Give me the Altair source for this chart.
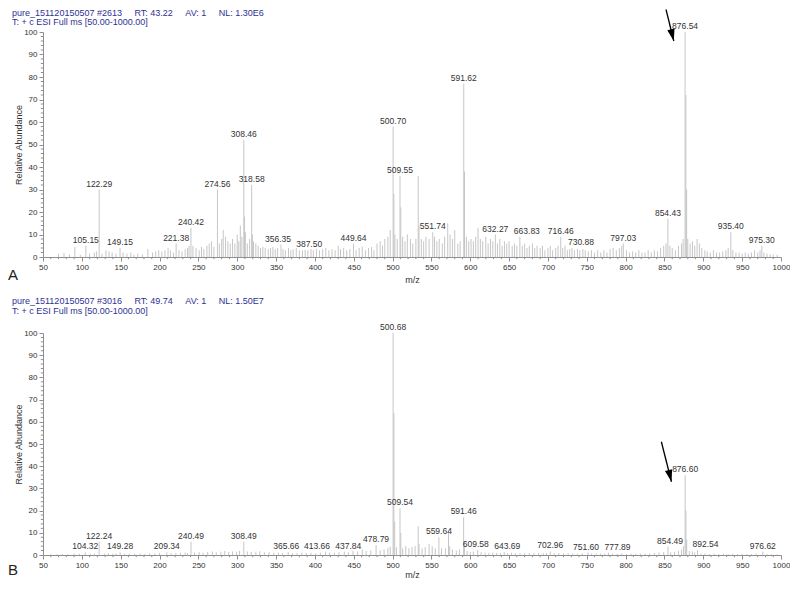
import altair as alt
import pandas as pd

FONT = "Liberation Sans"
NB = "\u00a0" * 5

# ---------------- data: panel A (m/z, relative abundance) ----------------
A_PEAKS = [
    (70, 1.5), (77, 1.8), (84, 1.2), (91, 4.5), (98, 1.0), (105.15, 5), (110, 1.5), (116, 2), (119, 2.5),
    (122.29, 30), (126, 1.5), (131, 3), (135, 2.5), (139, 2), (144, 1.5), (149.15, 4), (153, 2), (158, 1.5),
    (163, 2), (167, 1), (172, 1.5), (178, 1.2), (185, 3.5), (191, 2), (195, 2.5), (199, 3),
    (203, 2.5), (207, 3), (211, 4), (214, 3), (218, 2), (221.38, 6), (225, 3), (229, 2.5), (233, 3.5),
    (236, 4), (238, 5), (240.42, 13), (243, 5), (247, 4), (251, 3), (254, 4.5), (257, 3.5), (261, 5),
    (264, 6), (267, 7), (270, 4.5), (274.56, 30), (277, 6), (280, 8), (282, 12), (285, 9), (288, 7),
    (291, 6), (294, 8), (297, 6), (300, 10), (302, 7), (304, 14), (306, 9), (308.46, 52), (309.46, 18),
    (310.5, 11), (313, 6), (316, 8), (318.58, 32), (319.58, 10), (321, 7), (324, 6), (327, 5), (330, 4),
    (333, 4.5), (336, 4), (340, 3.5), (343, 4), (346, 4.5), (349, 3.5), (352, 4), (356.35, 5.5), (359, 3.5),
    (362, 3), (366, 4), (369, 3), (372, 3.5), (376, 4), (380, 3), (384, 3), (387.50, 3.2), (391, 3),
    (395, 3.5), (398, 3), (402, 3.5), (406, 3), (410, 3.5), (414, 4), (418, 3), (422, 3.5), (426, 3),
    (430, 5), (433, 3.5), (437, 4), (441, 3), (445, 3.5), (449.64, 6), (453, 3), (457, 4), (461, 4.5),
    (465, 3), (469, 4), (473, 4.5), (476, 3), (480, 6), (484, 7), (487, 5), (490, 8), (494, 9), (497, 12),
    (500.70, 58), (501.70, 28), (503, 10), (506, 8), (509.55, 36), (510.55, 22), (513, 9), (516, 7),
    (519, 10), (523, 8), (526, 6), (530, 8), (533, 36), (534, 14), (537, 8), (540, 7), (543, 9), (547, 8),
    (551.74, 11), (554, 9), (557, 7), (560, 8), (564, 6), (567, 9), (571, 15), (574, 10), (577, 8),
    (580, 12), (584, 6), (587, 7), (591.62, 77), (592.62, 38), (595, 9), (598, 7),
    (601, 8), (604, 7), (607, 9), (610, 13), (613, 8), (616, 7), (620, 9), (623, 6), (626, 8), (629, 7),
    (632.27, 10), (635, 6), (638, 8), (641, 5), (644, 7), (647, 6), (650, 7), (654, 5), (657, 6), (660, 5),
    (663.83, 9), (667, 5), (670, 6), (673, 4), (676, 5), (680, 6), (683, 4), (686, 5), (690, 4), (693, 5),
    (696, 3), (700, 4), (703, 5), (706, 3), (710, 4), (713, 5), (716.46, 9), (719, 4), (722, 5), (725, 3),
    (728, 3.5), (730.88, 4), (734, 3), (738, 3.5), (741, 3), (745, 3.5), (748, 3), (752, 2.5), (756, 3),
    (760, 2), (764, 3), (768, 2), (772, 3), (776, 2), (780, 3.5), (784, 4), (788, 3), (792, 4), (795, 5),
    (797.03, 6), (801, 3), (805, 2), (809, 2.5), (813, 2), (817, 3), (821, 2), (825, 2), (829, 3), (833, 2),
    (837, 3), (841, 2.5), (845, 4), (849, 5), (852, 6), (854.43, 17), (857, 5), (860, 4), (864, 3), (868, 5),
    (872, 6), (874, 8), (876.54, 100), (877.55, 72), (878.55, 30), (880, 8), (883, 6), (886, 7), (889, 5),
    (892, 8), (895, 6), (898, 4), (902, 3), (905, 2.5), (909, 2), (913, 3), (917, 2), (921, 2), (925, 2.5),
    (929, 3), (932, 4), (935.40, 11), (938, 3), (942, 2), (946, 2), (950, 1.5), (954, 2), (958, 1.5),
    (962, 2), (966, 3), (970, 2), (973, 3), (975.30, 5), (978, 2), (982, 1.5), (986, 1.2), (990, 1), (995, 1),
]
A_LABELS = [105.15, 122.29, 149.15, 221.38, 240.42, 274.56, 308.46, 318.58, 356.35, 387.50, 449.64,
            500.70, 509.55, 551.74, 591.62, 632.27, 663.83, 716.46, 730.88, 797.03, 854.43, 876.54,
            935.40, 975.30]
A_HEADER = ["pure_151120150507 #2613" + NB + "RT: 43.22" + NB + "AV: 1" + NB + "NL: 1.30E6",
            "T: + c ESI Full ms [50.00-1000.00]"]
A_ARROW = {"x1": [852], "y1": [110], "x2": [862], "y2": [96]}

# ---------------- data: panel B ----------------
B_PEAKS = [
    (60, 0.3), (68, 0.4), (75, 0.5), (82, 0.4), (90, 0.6), (97, 0.5), (104.32, 1.2), (111, 0.5), (116, 0.6),
    (122.24, 6), (129, 0.7), (134, 0.8), (140, 0.6), (144, 0.7), (149.28, 1.2), (155, 0.6), (161, 0.5),
    (168, 0.6), (175, 0.7), (181, 0.5), (187, 0.8), (194, 0.7), (200, 0.9), (209.34, 1.2), (215, 0.8),
    (221, 0.9), (227, 1), (233, 1.1), (236, 0.9), (240.49, 6), (245, 1.1), (251, 1.3), (256, 1), (262, 1.4),
    (268, 1.6), (273, 1.2), (279, 1.5), (284, 1.8), (289, 1.4), (294, 1.6), (299, 1.5), (303, 1.9),
    (308.49, 6), (313, 1.6), (318, 1.4), (324, 1.5), (329, 1.7), (335, 1.2), (341, 1.3), (347, 1),
    (353, 1.1), (358, 0.9), (365.66, 1.3), (371, 0.9), (377, 0.8), (383, 1), (389, 0.9), (395, 1),
    (401, 0.8), (407, 1.1), (413.66, 1.5), (419, 1.1), (425, 1), (431, 1.2), (437.84, 1.5), (443, 1.2),
    (449, 1.8), (455, 1.6), (461, 2.5), (466, 1.8), (472, 2.2), (478.79, 4.5), (484, 2.2), (489, 2.5),
    (494, 3.2), (497, 3.8), (500.68, 100), (501.68, 64), (502.68, 15), (505, 3.5), (509.54, 21),
    (510.54, 10), (513, 3), (517, 4), (521, 3), (525, 3.5), (529, 4), (533, 13), (534, 5), (538, 3),
    (542, 3.5), (547, 5), (551, 4), (555, 3), (559.64, 8), (563, 3), (568, 3), (572, 11), (573.5, 4),
    (577, 2.5), (582, 2), (586, 2.5), (591.46, 17), (592.46, 6), (596, 1.8), (600, 1.4), (604, 1.6),
    (609.58, 2.2), (614, 1.3), (619, 1.1), (624, 1), (629, 1.1), (634, 1), (639, 0.9), (643.69, 1.3),
    (648, 0.9), (653, 1), (658, 0.8), (664, 0.9), (670, 0.8), (676, 0.9), (682, 0.8), (688, 1), (694, 0.8),
    (698, 0.9), (702.96, 1.6), (708, 0.8), (714, 0.9), (720, 0.7), (726, 0.8), (732, 0.7), (738, 0.6),
    (744, 0.7), (751.60, 1.1), (756, 0.7), (762, 0.6), (768, 0.7), (773, 0.6), (777.89, 1), (783, 0.6),
    (789, 0.5), (795, 0.7), (801, 0.5), (807, 0.6), (813, 0.5), (819, 0.7), (825, 0.6), (831, 0.7),
    (837, 0.9), (843, 1.2), (849, 1.3), (854.49, 3.8), (858, 1.2), (863, 1.3), (868, 1.8), (872, 2.5),
    (874.6, 4), (876.60, 36), (877.60, 20), (878.60, 7), (882, 1.8), (886, 1.6), (889, 1.2), (892.54, 2.2),
    (897, 0.7), (902, 0.6), (908, 0.5), (914, 0.6), (920, 0.4), (926, 0.5), (932, 0.4), (938, 0.6),
    (944, 0.4), (950, 0.4), (956, 0.5), (962, 0.4), (968, 0.6), (976.62, 1.5), (982, 0.4), (988, 0.3),
    (995, 0.3),
]
B_LABELS = [104.32, 122.24, 149.28, 209.34, 240.49, 308.49, 365.66, 413.66, 437.84, 478.79, 500.68,
            509.54, 559.64, 591.46, 609.58, 643.69, 702.96, 751.60, 777.89, 854.49, 876.60, 892.54,
            976.62]
B_HEADER = ["pure_151120150507 #3016" + NB + "RT: 49.74" + NB + "AV: 1" + NB + "NL: 1.50E7",
            "T: + c ESI Full ms [50.00-1000.00]"]
B_ARROW = {"x1": [846], "y1": [51], "x2": [859], "y2": [33]}

X_MAJOR = list(range(50, 1001, 50))
X_MINOR = [v for v in range(50, 1001, 10) if v % 50]
Y_MAJOR = list(range(0, 101, 10))
Y_MINOR = [v for v in range(0, 101, 2) if v % 10]

# label nudges (pixels) to keep neighbouring labels apart, as in the original
NUDGE_A = {356.35: -3, 387.50: 4, 663.83: 7, 730.88: 9}
NUDGE_B = {365.66: -2, 413.66: -8.5, 437.84: 4, 609.58: -2, 643.69: 3, 751.60: -2, 777.89: 9,
           854.49: 2, 892.54: 8}

W = 738
AXC = "#8f8f8f"
TXT = "#333333"
HDR = "#2e3192"


def panel(peaks, labels, nudge, header, arrow, letter, H, hdr_y, letter_y, title_pad):
    xs = alt.Scale(domain=[50, 1000], nice=False, zero=False)
    ys = alt.Scale(domain=[0, 100], nice=False, zero=True)
    xaxis = alt.Axis(values=X_MAJOR, format="d", title="m/z", tickSize=4, labelFontSize=8, labelPadding=2,
                     labelFlush=False, labelOverlap=False, titleFontSize=9, titleFontWeight="normal",
                     titlePadding=title_pad, domainColor=AXC, tickColor=AXC, labelColor=TXT,
                     titleColor=TXT, grid=False)
    yaxis = alt.Axis(values=Y_MAJOR, format="d", title="Relative Abundance", tickSize=4, labelFontSize=8,
                     labelPadding=2, labelOverlap=False, titleFontSize=9, titleFontWeight="normal",
                     titleX=-25, titleY=H / 2, titleAlign="center", titleBaseline="middle",
                     titleAngle=270, domainColor=AXC, tickColor=AXC, labelColor=TXT, titleColor=TXT,
                     grid=False)

    def X(f):
        return alt.X(f"{f}:Q", scale=xs, axis=xaxis)

    def Y(f):
        return alt.Y(f"{f}:Q", scale=ys, axis=yaxis)

    pk = pd.DataFrame({"mz": [p[0] for p in peaks], "ab": [p[1] for p in peaks]})
    pk["base"] = 0.0
    lut = dict(peaks)

    layers = [
        alt.Chart(pk).mark_rule(color="#c6c6c6", strokeWidth=1).encode(x=X("mz"), y=Y("ab"), y2="base:Q")
    ]

    groups = {}
    for m in labels:
        groups.setdefault(nudge.get(m, 0), []).append(m)
    for dx, ms in groups.items():
        lab = pd.DataFrame({"mz": ms, "ab": [lut[m] for m in ms], "txt": [f"{m:.2f}" for m in ms]})
        layers.append(
            alt.Chart(lab).mark_text(fontSize=8.5, baseline="bottom", dy=-1, dx=dx, color=TXT, font=FONT)
            .encode(x=X("mz"), y=Y("ab"), text="txt:N")
        )

    layers.append(
        alt.Chart(pd.DataFrame({"t": X_MINOR})).mark_rule(color=AXC, strokeWidth=1)
        .encode(x=X("t"), y=alt.value(H), y2=alt.value(H + 2.2))
    )
    layers.append(
        alt.Chart(pd.DataFrame({"t": Y_MINOR})).mark_rule(color=AXC, strokeWidth=1)
        .encode(y=Y("t"), x=alt.value(-2.2), x2=alt.value(0))
    )
    for i, line in enumerate(header):
        layers.append(
            alt.Chart(pd.DataFrame({"t": [line]})).mark_text(align="left", baseline="middle", fontSize=9,
                                                              color=HDR, font=FONT)
            .encode(x=alt.value(-31), y=alt.value(hdr_y[i]), text="t:N")
        )
    layers.append(
        alt.Chart(pd.DataFrame({"t": [letter]})).mark_text(align="left", baseline="middle", fontSize=15,
                                                            color="#222222", font=FONT)
        .encode(x=alt.value(-35), y=alt.value(letter_y), text="t:N")
    )
    ar = pd.DataFrame(arrow)
    layers.append(
        alt.Chart(ar).mark_rule(color="black", strokeWidth=1.3)
        .encode(x=X("x1"), y=Y("y1"), x2="x2:Q", y2="y2:Q")
    )
    layers.append(
        alt.Chart(ar).mark_point(shape="M0,0L-0.62,-2L0.62,-2Z", size=144, filled=True, color="black",
                                 opacity=1, strokeWidth=0, angle=346)
        .encode(x=X("x2"), y=Y("y2"))
    )
    return alt.layer(*layers).properties(width=W, height=H)


top = panel(A_PEAKS, A_LABELS, NUDGE_A, A_HEADER, A_ARROW, "A", 225, [-19.5, -10], 243, 4)
bottom = panel(B_PEAKS, B_LABELS, NUDGE_B, B_HEADER, B_ARROW, "B", 222, [-32, -22], 237, 1)

chart = (
    alt.vconcat(top, bottom, spacing=76, bounds="flush")
    .properties(padding=0)
    .configure(font=FONT)
    .configure_view(strokeOpacity=0)
)

chart.save("out.html", embed_options={"renderer": "svg", "actions": False})
